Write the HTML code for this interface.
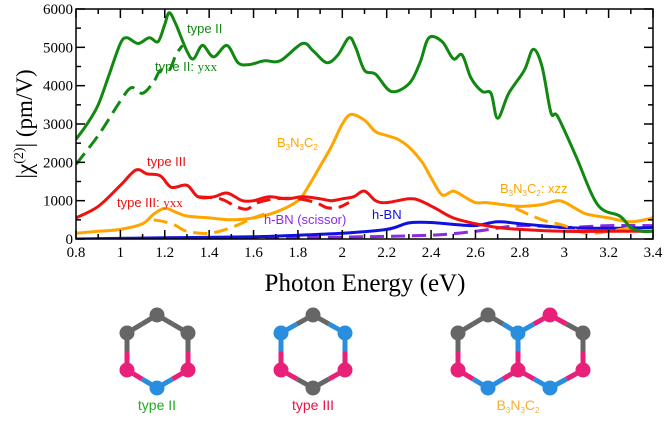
<!DOCTYPE html>
<html><head><meta charset="utf-8"><style>
body{margin:0;background:#fff;}
svg text{font-family:"Liberation Sans",sans-serif;}
.serif{font-family:"Liberation Serif",serif !important;}
</style></head><body>
<svg id="chart" width="666" height="416" viewBox="0 0 666 416" xmlns="http://www.w3.org/2000/svg">
<g id="plot"></g>
<g id="axes"></g>
<g id="mols"></g>
</svg>
<script>
const typeIIx=[0.8,0.85,0.9,0.95,1.0,1.03,1.08,1.13,1.17,1.2,1.22,1.25,1.3,1.33,1.37,1.42,1.48,1.53,1.58,1.65,1.72,1.82,1.87,1.93,1.98,2.03,2.06,2.1,2.15,2.22,2.3,2.35,2.39,2.45,2.5,2.54,2.58,2.63,2.67,2.7,2.75,2.82,2.86,2.9,2.94,2.97,3.05,3.15,3.25,3.3,3.35,3.4];
const typeIIy=[2600,3000,3500,4300,5100,5250,5100,5250,5150,5600,5900,5600,4900,4700,5050,4750,5050,4600,4550,4650,4650,5100,4900,4600,4800,5250,5000,4400,4300,3850,4050,4600,5250,5150,4700,4800,4200,3850,3800,3150,3800,4400,4950,4500,3300,3200,2200,900,600,300,200,200];
const typeIIyxxX=[0.8,0.9,1.0,1.05,1.1,1.15,1.18,1.22,1.25,1.28];
const typeIIyxxY=[1950,2700,3600,3950,3800,4100,4400,4400,4800,5050];
const typeIIIx=[0.8,0.9,1.0,1.07,1.12,1.18,1.23,1.3,1.35,1.42,1.48,1.55,1.6,1.67,1.75,1.82,1.9,1.95,2.0,2.05,2.1,2.15,2.2,2.3,2.35,2.42,2.5,2.6,2.7,2.8,3.0,3.2,3.4];
const typeIIIy=[550,850,1400,1800,1700,1650,1350,1400,1100,1100,1200,1000,1000,1100,1050,1100,1050,1000,1050,1100,1250,1000,950,1050,1000,800,550,400,300,250,200,200,200];
const typeIIIyxxX=[1.35,1.45,1.52,1.57,1.62,1.7,1.8,1.88,1.93,1.98,2.03];
const typeIIIyxxY=[1100,1050,850,780,950,1050,1050,950,820,820,950];
const bncX=[0.8,0.9,1.0,1.1,1.15,1.2,1.25,1.3,1.4,1.5,1.6,1.7,1.8,1.85,1.9,1.95,2.0,2.04,2.1,2.15,2.2,2.25,2.3,2.36,2.4,2.45,2.5,2.55,2.6,2.65,2.72,2.8,2.9,2.98,3.05,3.1,3.2,3.3,3.4];
const bncY=[150,200,250,400,650,800,700,600,550,500,550,700,1000,1400,1900,2400,3000,3250,3100,2800,2700,2600,2400,2000,1600,1150,1250,1100,950,950,900,850,900,1000,800,650,550,450,550];
const bncXzzX=[1.15,1.2,1.25,1.3,1.4,1.5,1.6,1.65];
const bncXzzY=[500,450,350,200,150,300,550,650];
const bncXzz2X=[2.78,2.9,3.0,3.1,3.2,3.3];
const bncXzz2Y=[800,500,350,150,200,300];
const hbnX=[0.8,1.2,1.6,1.8,2.0,2.2,2.3,2.4,2.5,2.6,2.7,2.8,3.0,3.2,3.4];
const hbnY=[0,30,60,100,150,250,420,430,380,350,450,400,300,280,300];
const scisX=[0.8,1.6,2.0,2.4,2.6,2.8,3.0,3.2,3.4];
const scisY=[0,20,50,100,200,350,300,350,350];
const xTicks=[0.8,1,1.2,1.4,1.6,1.8,2,2.2,2.4,2.6,2.8,3,3.2,3.4];
const xTickLabels=["0.8","1","1.2","1.4","1.6","1.8","2","2.2","2.4","2.6","2.8","3","3.2","3.4"];
const yTicks=[0,1000,2000,3000,4000,5000,6000];
const yTickLabels=["0","1000","2000","3000","4000","5000","6000"];

const NS="http://www.w3.org/2000/svg";
const L=76,R=653,T=9,B=239;
const X=e=>L+(e-0.8)*(R-L)/2.6;
const Y=v=>B-v*(B-T)/6000;
function mk(tag,attrs,parent){const el=document.createElementNS(NS,tag);for(const k in attrs)el.setAttribute(k,attrs[k]);parent.appendChild(el);return el;}
function smooth(xs,ys){const p=xs.map((x,i)=>[X(x),Y(ys[i])]);let d="M"+p[0][0].toFixed(1)+","+p[0][1].toFixed(1);
for(let i=0;i<p.length-1;i++){const p0=p[i-1]||p[i],p1=p[i],p2=p[i+1],p3=p[i+2]||p2;
const c1=[p1[0]+(p2[0]-p0[0])/6,p1[1]+(p2[1]-p0[1])/6],c2=[p2[0]-(p3[0]-p1[0])/6,p2[1]-(p3[1]-p1[1])/6];
d+="C"+c1.map(v=>v.toFixed(1))+" "+c2.map(v=>v.toFixed(1))+" "+p2.map(v=>v.toFixed(1));}return d;}
const plot=document.getElementById('plot');
const defs=mk('defs',{},plot);const cp=mk('clipPath',{id:'clip'},defs);mk('rect',{x:L,y:T-2,width:R-L,height:B-T+2},cp);
const pg=mk('g',{'clip-path':'url(#clip)'},plot);
function series(xs,ys,color,dash,name){const el=mk('path',{d:smooth(xs,ys),fill:'none',stroke:color,'stroke-width':3,'stroke-linejoin':'round'},pg);
if(dash)el.setAttribute('stroke-dasharray',dash);

}
series(scisX,scisY,'#8a2be2','14 7','hbn-scissor-line');
series(hbnX,hbnY,'#1010e0',null,'hbn-line');
series(bncXzzX,bncXzzY,'#ffa500','14 7','b3n3c2-xzz-line');
series(bncXzz2X,bncXzz2Y,'#ffa500','14 7','b3n3c2-xzz-line-2');
series(bncX,bncY,'#ffa500',null,'b3n3c2-line');
series(typeIIIyxxX,typeIIIyxxY,'#ee1111','14 7','type-iii-yxx-line');
series(typeIIIx,typeIIIy,'#ee1111',null,'type-iii-line');
series(typeIIyxxX,typeIIyxxY,'#118811','14 7','type-ii-yxx-line');
series(typeIIx,typeIIy,'#118811',null,'type-ii-line');

const ax=document.getElementById('axes');
const fr=mk('rect',{x:L,y:T,width:R-L,height:B-T,fill:'none',stroke:'#000','stroke-width':1.5},ax);

for(let e=0.8;e<=3.401;e+=0.1){const major=Math.abs(Math.round(e*10)%2)===0;const len=major?9:5;
mk('line',{x1:X(e),x2:X(e),y1:B,y2:B-len,stroke:'#000','stroke-width':1.5},ax);
mk('line',{x1:X(e),x2:X(e),y1:T,y2:T+len,stroke:'#000','stroke-width':1.5},ax);}
for(let v=0;v<=6000;v+=500){const len=v%1000===0?9:5;
mk('line',{x1:L,x2:L+len,y1:Y(v),y2:Y(v),stroke:'#000','stroke-width':1.5},ax);
mk('line',{x1:R,x2:R-len,y1:Y(v),y2:Y(v),stroke:'#000','stroke-width':1.5},ax);}
xTicks.forEach((t,i)=>{const el=mk('text',{x:X(t),y:B+18,'text-anchor':'middle','font-size':15,class:'serif'},ax);el.textContent=xTickLabels[i];
});
yTicks.forEach((t,i)=>{const el=mk('text',{x:L-3,y:Y(t)+5,'text-anchor':'end','font-size':15,class:'serif'},ax);el.textContent=yTickLabels[i];
});
function lbl(x,y,txt,color,name,size,anchor){const el=mk('text',{x:x,y:y,fill:color,'font-size':size||13,'text-anchor':anchor||'start'},ax);el.innerHTML=txt;
return el;}
lbl(187,33,'type II','#118811','type-ii-label');
lbl(155,71,'type II: <tspan class="serif">yxx</tspan>','#118811','type-ii-yxx-label');
lbl(147,166,'type III','#ee1111','type-iii-label');
lbl(117,207,'type III: <tspan class="serif">yxx</tspan>','#ee1111','type-iii-yxx-label');
lbl(277,147,'B<tspan font-size="8" dy="3">3</tspan><tspan dy="-3">N</tspan><tspan font-size="8" dy="3">3</tspan><tspan dy="-3">C</tspan><tspan font-size="8" dy="3">2</tspan>','#ffa500','b3n3c2-label');
lbl(500,193,'B<tspan font-size="8" dy="3">3</tspan><tspan dy="-3">N</tspan><tspan font-size="8" dy="3">3</tspan><tspan dy="-3">C</tspan><tspan font-size="8" dy="3">2</tspan><tspan dy="-3">: xzz</tspan>','#ffa500','b3n3c2-xzz-label');
lbl(264,224,'h-BN (scissor)','#8a2be2','hbn-scissor-label');
lbl(372,219,'h-BN','#1010e0','hbn-label');
const xt=lbl(365,291,'Photon Energy (eV)','#000','x-axis-title',25,'middle');xt.setAttribute('class','serif');
const yt=mk('text',{transform:'translate(32,124) rotate(-90)','text-anchor':'middle','font-size':23,class:'serif'},ax);
yt.innerHTML='|χ<tspan font-size="14" dy="-9">(2)</tspan><tspan dy="9">| (pm/V)</tspan>';


const mols=document.getElementById('mols');
const G='#666',P='#e8207a',Bl='#2a8ee0';
function mol(atoms,bonds,name){const g=mk('g',{},mols);
bonds.forEach(([a,b])=>{const A=atoms[a],Bb=atoms[b];const mx=(A[0]+Bb[0])/2,my=(A[1]+Bb[1])/2;
mk('line',{x1:A[0],y1:A[1],x2:mx,y2:my,stroke:A[2],'stroke-width':5},g);mk('line',{x1:mx,y1:my,x2:Bb[0],y2:Bb[1],stroke:Bb[2],'stroke-width':5},g);});
atoms.forEach(a=>mk('circle',{cx:a[0],cy:a[1],r:7.5,fill:a[2]},g));}
const ring=[[0,1],[1,2],[2,3],[3,4],[4,5],[5,0]];
mol([[157,315,G],[188,333,G],[188,370,P],[157,388,Bl],[127,370,P],[127,333,G]],ring,'type-ii-molecule');
mol([[313,315,G],[345,333,Bl],[345,370,P],[313,388,G],[281,370,P],[281,333,Bl]],ring,'type-iii-molecule');
mol([[458,333,G],[488,315,G],[518,333,Bl],[550,315,P],[583,333,G],[583,370,P],[550,388,Bl],[518,370,P],[488,388,Bl],[458,370,P]],
[[0,1],[1,2],[2,3],[3,4],[4,5],[5,6],[6,7],[7,8],[8,9],[9,0],[2,7]],'b3n3c2-molecule');
function ml(x,txt,color,name){const el=mk('text',{x:x,y:410,fill:color,'font-size':14,'text-anchor':'middle'},mols);el.innerHTML=txt;
}
ml(157,'type II','#22aa22','type-ii-caption');
ml(313,'type III','#ee1144','type-iii-caption');
ml(518,'B<tspan font-size="8" dy="3">3</tspan><tspan dy="-3">N</tspan><tspan font-size="8" dy="3">3</tspan><tspan dy="-3">C</tspan><tspan font-size="8" dy="3">2</tspan>','#f5b030','b3n3c2-caption');
</script>
</body></html>
